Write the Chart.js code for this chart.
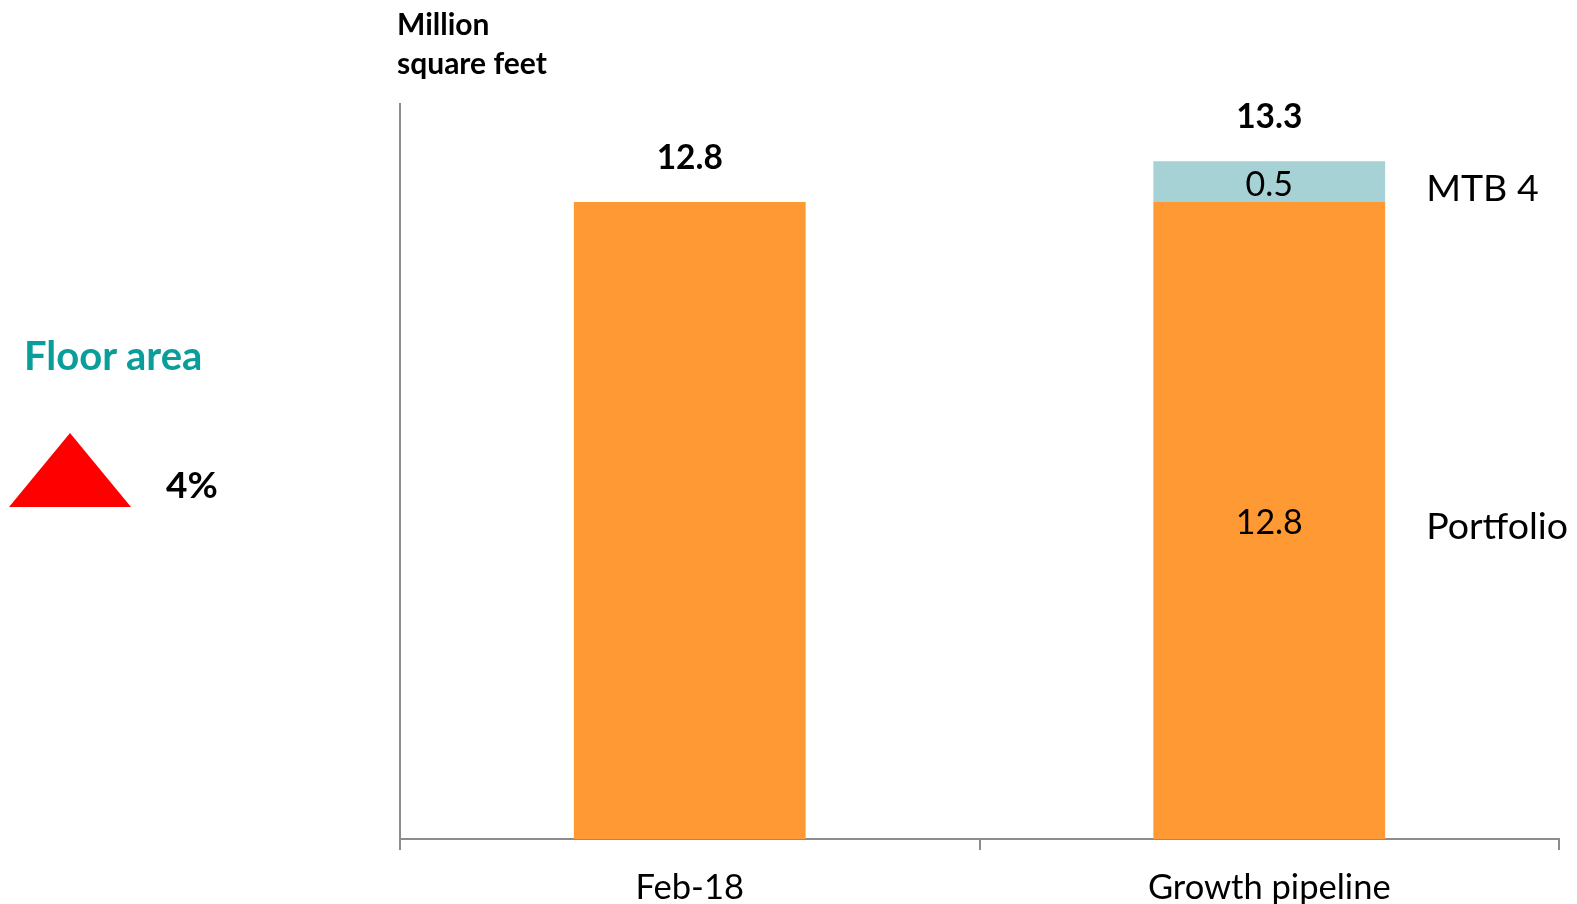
<!DOCTYPE html>
<html>
<head>
<meta charset="utf-8">
<script src="https://cdn.jsdelivr.net/npm/chart.js@4/dist/chart.umd.min.js"></script>
<style>
  html, body { margin: 0; padding: 0; background: #fff; }
  #wrap { position: relative; width: 1577px; height: 904px; overflow: hidden; font-family: Lato, "Open Sans", sans-serif; }
  canvas { position: absolute; left: 0; top: 0; }
  .t { position: absolute; white-space: nowrap; line-height: 1; }
</style>
</head>
<body>
<div id="wrap">
  <canvas id="c" width="1577" height="904"></canvas>
  <div class="t" style="left:397px; top:4px; font-size:30px; font-weight:700; color:#000; line-height:39px;">Million<br>square feet</div>
  <div class="t" style="left:24px; top:335px; font-size:40px; font-weight:700; color:#0A9E9A;">Floor area</div>
  <svg style="position:absolute; left:0; top:0;" width="200" height="600">
    <polygon points="9,507 131,507 70,433" fill="#FF0000"/>
  </svg>
  <div class="t" style="left:166px; top:465px; font-size:37px; font-weight:700; color:#000;">4%</div>
</div>
<script>
const categories = ['Feb-18', 'Growth pipeline'];
const seriesNames = ['Portfolio', 'MTB 4'];
const portfolio = [12.8, 12.8];
const mtb4 = [null, 0.5];
const totals = [12.8, 13.3];
const yMin = 5;
const yMax = 14;

const labelPlugin = {
  id: 'labels',
  afterDatasetsDraw(chart) {
    const ctx = chart.ctx;
    const y = chart.scales.y;
    const m0 = chart.getDatasetMeta(0);
    ctx.save();
    ctx.textAlign = 'center';
    ctx.textBaseline = 'middle';
    ctx.fillStyle = '#000';
    // totals
    ctx.font = 'bold 33.5px Lato';
    categories.forEach((c, i) => {
      const top = y.getPixelForValue(totals[i]);
      const x = m0.data[i].x;
      ctx.fillText(totals[i].toFixed(1), x, top - 44);
    });
    // inside labels for stacked bar
    ctx.font = '34px Lato';
    const i = 1;
    const bx = m0.data[i].x;
    const pTop = y.getPixelForValue(portfolio[i]);
    const pMid = (pTop + y.bottom) / 2;
    const mTop = y.getPixelForValue(portfolio[i] + mtb4[i]);
    const mMid = (mTop + pTop) / 2;
    ctx.fillText(portfolio[i].toFixed(1), bx, pMid + 3);
    ctx.fillText(mtb4[i].toFixed(1), bx, mMid + 3);
    // series names
    const right = m0.data[i].x + m0.data[i].width / 2;
    ctx.textAlign = 'left';
    ctx.font = '37.5px Lato';
    ctx.fillText(seriesNames[0], right + 41, pMid + 6);
    ctx.fillText(seriesNames[1], right + 41, mMid + 7);
    ctx.restore();
  }
};

new Chart(document.getElementById('c'), {
  type: 'bar',
  data: {
    labels: categories,
    datasets: [
      { label: seriesNames[0], data: portfolio, backgroundColor: '#FF9933', clip: 0,
        barPercentage: 0.4, categoryPercentage: 1 },
      { label: seriesNames[1], data: mtb4, backgroundColor: '#A6D2D6', clip: 0,
        barPercentage: 0.4, categoryPercentage: 1 }
    ]
  },
  options: {
    responsive: false,
    animation: false,
    devicePixelRatio: 1,
    layout: { padding: { left: 400, right: 18, top: 104, bottom: 0 } },
    plugins: { legend: { display: false }, tooltip: { enabled: false } },
    scales: {
      x: {
        stacked: true,
        z: 1,
        grid: { display: true, drawOnChartArea: false, drawTicks: true, tickLength: 11, color: '#8C8C8C', lineWidth: 2, offset: true },
        border: { display: true, color: '#8C8C8C', width: 2 },
        ticks: { color: '#000', font: { family: 'Lato', size: 34.5 }, padding: 17, maxRotation: 0 },
        afterFit(s) { s.height = 65; }
      },
      y: {
        stacked: true,
        min: yMin,
        max: yMax,
        grid: { display: false },
        border: { display: true, color: '#8C8C8C', width: 2 },
        ticks: { display: false },
        afterFit(s) { s.width = 0; }
      }
    }
  },
  plugins: [labelPlugin]
});
</script>
</body>
</html>
